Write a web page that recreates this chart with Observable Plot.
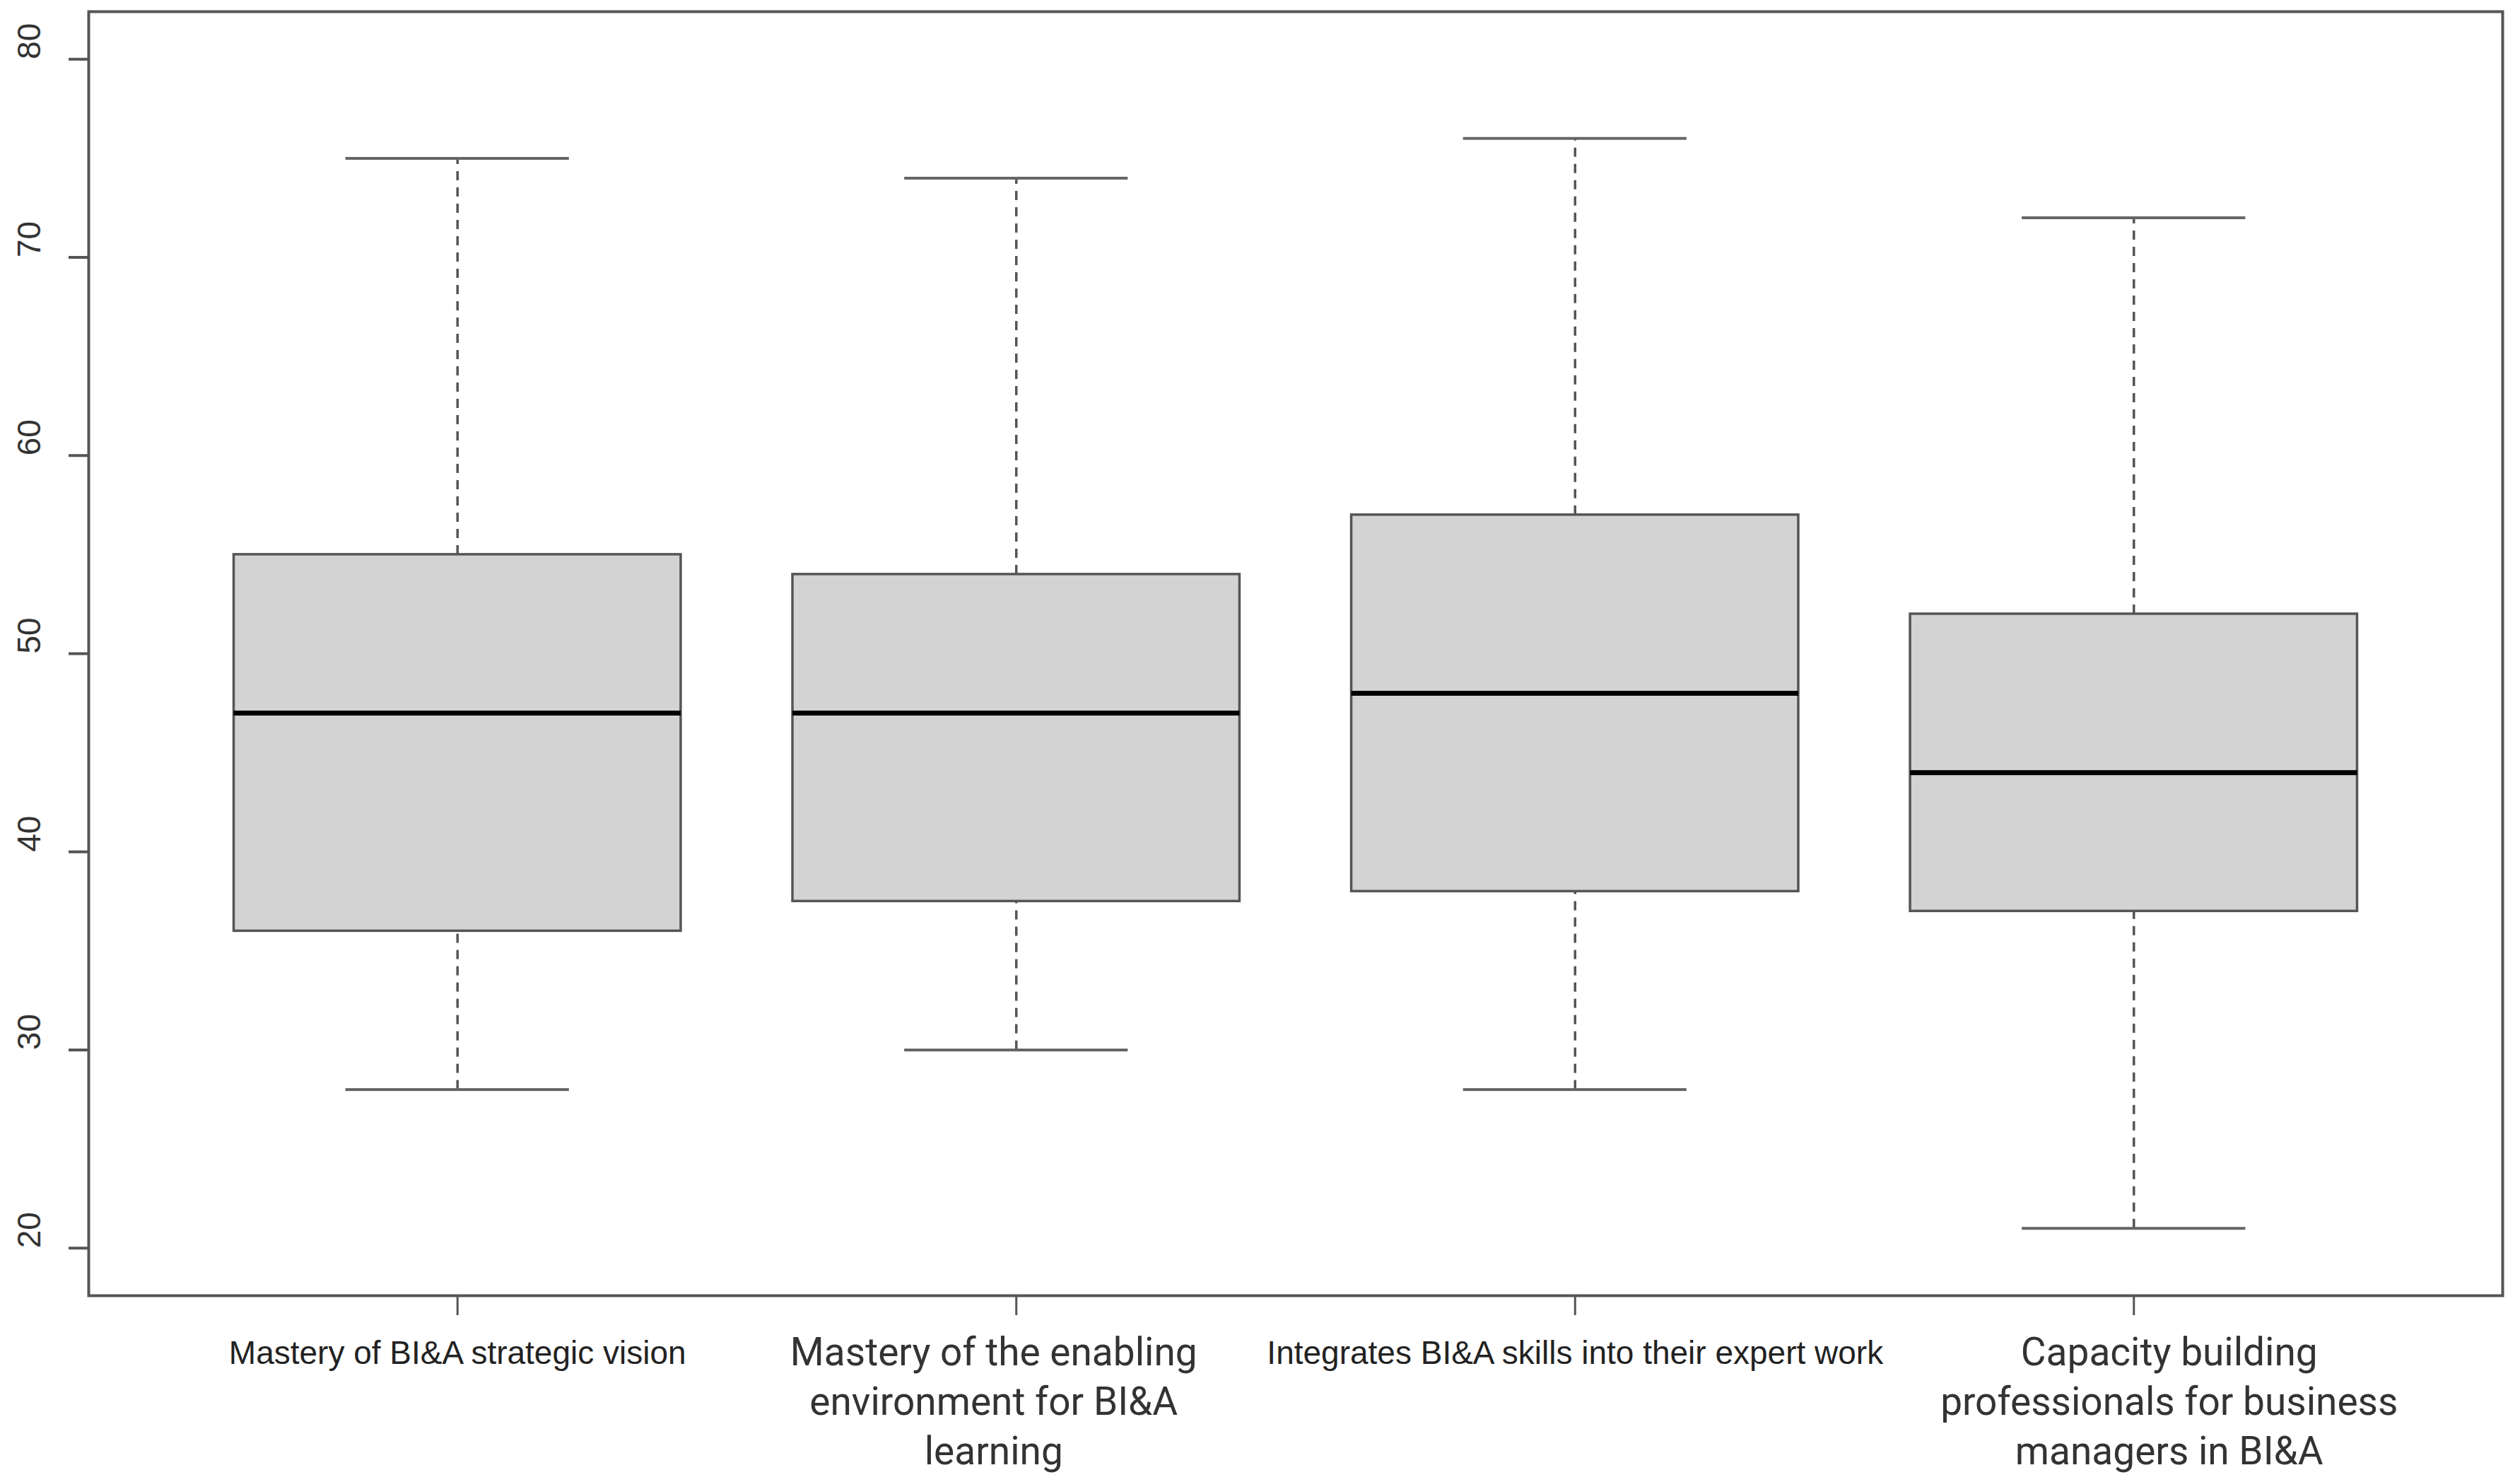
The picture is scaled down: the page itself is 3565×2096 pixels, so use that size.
<!DOCTYPE html>
<html><head><meta charset="utf-8">
<script src="https://cdn.jsdelivr.net/npm/d3@7"></script>
<script src="https://cdn.jsdelivr.net/npm/@observablehq/plot@0.6"></script>
<style>html,body{margin:0;padding:0;background:#fff;} svg{display:block}</style>
</head><body><div id="chart"></div>
<script>
const categories = [
  "Mastery of BI&A strategic vision",
  "Mastery of the enabling\nenvironment for BI&A\nlearning",
  "Integrates BI&A skills into their expert work",
  "Capacity building\nprofessionals for business\nmanagers in BI&A"
];
const labelStyle = ["r", "office", "r", "office"];
const whiskerLow  = [28, 30, 28, 21];
const q1          = [36, 37.5, 38, 37];
const median      = [47, 47, 48, 44];
const q3          = [55, 54, 57, 52];
const whiskerHigh = [75, 74, 76, 72];
const yTicks = [20, 30, 40, 50, 60, 70, 80];
const xTicks = [1, 2, 3, 4];

const data = categories.map((c, i) => ({
  i: i + 1, cat: c, style: labelStyle[i],
  lo: whiskerLow[i], q1: q1[i], med: median[i], q3: q3[i], hi: whiskerHigh[i]
}));

const officeFont = {frameAnchor: "bottom", dy: 146, lineAnchor: "middle", fontSize: 55, lineHeight: 1.27,
  fontFamily: "Roboto, sans-serif", fill: "#333"};

const chart = Plot.plot({
  width: 3565, height: 2096,
  marginLeft: 125, marginRight: 25, marginTop: 16, marginBottom: 264,
  x: {domain: [0.34, 4.66]},
  y: {domain: [17.6, 82.4]},
  style: {background: "white", overflow: "visible"},
  marks: [
    Plot.ruleX(data, {x: "i", y1: "q3", y2: "hi", stroke: "#555", strokeWidth: 3.5, strokeDasharray: "13,10"}),
    Plot.ruleX(data, {x: "i", y1: "lo", y2: "q1", stroke: "#555", strokeWidth: 3.5, strokeDasharray: "13,10"}),
    Plot.ruleY(data, {y: "hi", x1: d => d.i - 0.2, x2: d => d.i + 0.2, stroke: "#666", strokeWidth: 4}),
    Plot.ruleY(data, {y: "lo", x1: d => d.i - 0.2, x2: d => d.i + 0.2, stroke: "#666", strokeWidth: 4}),
    Plot.rect(data, {x1: d => d.i - 0.4, x2: d => d.i + 0.4, y1: "q1", y2: "q3", fill: "#d3d3d3", stroke: "#555", strokeWidth: 3.5}),
    Plot.ruleY(data, {y: "med", x1: d => d.i - 0.4, x2: d => d.i + 0.4, stroke: "#000", strokeWidth: 7}),
    Plot.frame({stroke: "#555", strokeWidth: 4}),
    Plot.axisY({ticks: yTicks, tickSize: 28, tickFormat: () => "", stroke: "#555", strokeWidth: 4, label: null}),
    Plot.axisX({ticks: xTicks, tickSize: 28, tickFormat: () => "", stroke: "#555", strokeWidth: 3, label: null}),
    Plot.text(yTicks, {y: d => d, text: d => String(d), frameAnchor: "left", dx: -83, rotate: -90,
      lineAnchor: "middle", fontSize: 46, fontFamily: "Liberation Sans, Arial, sans-serif", fill: "#333"}),
    Plot.text(data.filter(d => d.style === "r"), {x: "i", text: "cat", frameAnchor: "bottom", dy: 82,
      lineAnchor: "middle", fontSize: 46, fontFamily: "Liberation Sans, Arial, sans-serif", fill: "#222"}),
    Plot.text(data.filter(d => d.i === 2), {x: "i", text: "cat", dx: -32, ...officeFont}),
    Plot.text(data.filter(d => d.i === 4), {x: "i", text: "cat", dx: 50, ...officeFont})
  ]
});
document.getElementById("chart").appendChild(chart);
</script>
</body></html>
